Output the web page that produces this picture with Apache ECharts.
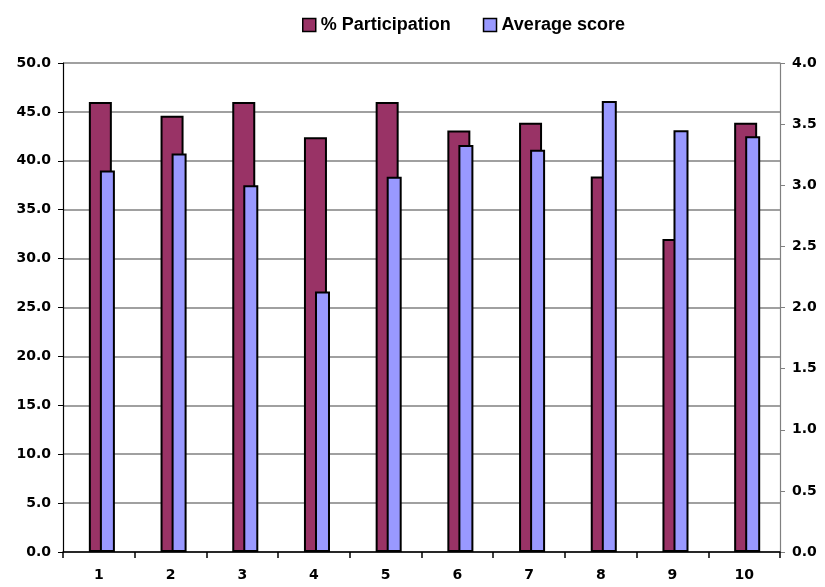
<!DOCTYPE html>
<html><head><meta charset="utf-8">
<script src="https://cdn.jsdelivr.net/npm/echarts@6/dist/echarts.min.js"></script>
<style>html,body{margin:0;padding:0;background:#fff}#c{width:825px;height:587px}</style>
</head><body><div id="c"></div>
<script>
const categories = ['1','2','3','4','5','6','7','8','9','10'];
const participation = [46.0, 44.6, 46.0, 42.4, 46.0, 43.1, 43.9, 38.4, 32.0, 43.9];
const averageScore = [3.12, 3.26, 3.00, 2.13, 3.07, 3.33, 3.29, 3.69, 3.45, 3.40];

const chart = echarts.init(document.getElementById('c'));
const lbl = {color:'#000', fontFamily:'DejaVu Sans', fontWeight:'bold', fontSize:14};
chart.setOption({
  animation:false,
  legend:{
    top:16, left:302, padding:0, itemGap:32, itemWidth:13, itemHeight:13, icon:'rect',
    itemStyle:{borderColor:'#000', borderWidth:1.5},
    textStyle:{color:'#000', fontFamily:'Liberation Sans, Arial', fontWeight:'bold', fontSize:18},
    data:['% Participation','Average score']
  },
  grid:{left:63, right:45, top:63, bottom:35},
  xAxis:{
    type:'category', data:categories,
    axisLine:{lineStyle:{color:'#000', width:1.5}},
    axisTick:{show:true, length:6, lineStyle:{color:'#000', width:1.5}},
    axisLabel:Object.assign({margin:16}, lbl)
  },
  yAxis:[
    {type:'value', min:0, max:50, interval:5,
     axisLine:{show:true, lineStyle:{color:'#000', width:1.2}},
     axisTick:{show:true, length:5, lineStyle:{color:'#000'}},
     splitLine:{lineStyle:{color:'#808080', width:1.5}},
     axisLabel:Object.assign({margin:12, formatter:v=>v.toFixed(1)}, lbl)},
    {type:'value', min:0, max:4, interval:0.5, position:'right',
     axisLine:{show:true, lineStyle:{color:'#808080', width:1.2}},
     axisTick:{show:true, length:5, lineStyle:{color:'#808080'}},
     splitLine:{show:false},
     axisLabel:Object.assign({margin:12, formatter:v=>v.toFixed(1)}, lbl)}
  ],
  series:[
    {name:'spacer', type:'bar', yAxisIndex:0, data:[], barWidth:12.6, barGap:'-52%',
     itemStyle:{opacity:0}, silent:true},
    {name:'% Participation', type:'bar', yAxisIndex:0, data:participation,
     barWidth:23, barGap:'-52%',
     itemStyle:{color:'#993366', borderColor:'#000', borderWidth:2}},
    {name:'Average score', type:'bar', yAxisIndex:1, data:averageScore,
     barWidth:15, barGap:'-52%',
     itemStyle:{color:'#9999FF', borderColor:'#000', borderWidth:2}}
  ]
});
</script></body></html>
